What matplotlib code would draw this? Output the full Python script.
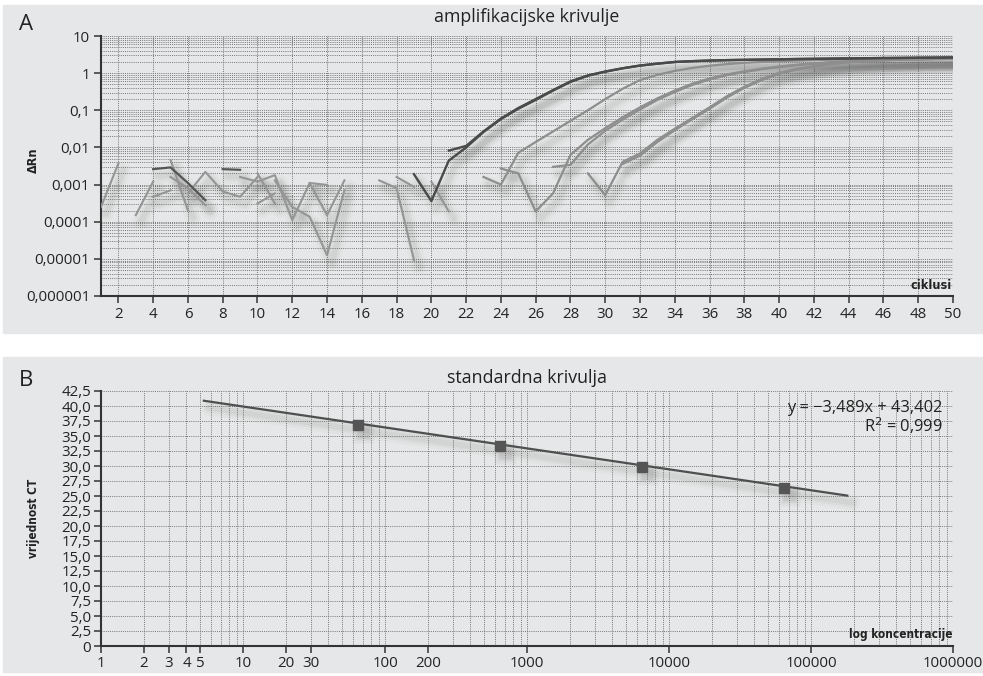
import numpy as np
import matplotlib
matplotlib.use("Agg")
import matplotlib.pyplot as plt
from matplotlib.patches import Rectangle
from matplotlib.ticker import FixedLocator, LogLocator, NullFormatter, FuncFormatter
from matplotlib.transforms import offset_copy

plt.rcParams['font.family'] = ['Open Sans', 'DejaVu Sans']

# ---------------- amplification curves (cycle start, delta Rn per cycle) ----------------
dark_a_start = 19
dark_a = [0.0019, 0.00036, 0.0044, 0.010, 0.026, 0.058, 0.11, 0.19, 0.34, 0.58, 0.85,
          1.1, 1.35, 1.6, 1.8, 2.0, 2.1, 2.18, 2.24, 2.28, 2.32, 2.36, 2.4, 2.43, 2.46,
          2.49, 2.52, 2.55, 2.57, 2.6, 2.62, 2.65]
dark_b_start = 21
dark_b = [0.0082, 0.011, 0.027, 0.06, 0.115, 0.2, 0.35, 0.6, 0.87, 1.1, 1.35, 1.6, 1.8,
          2.0, 2.1, 2.18, 2.24, 2.28, 2.32, 2.36, 2.4, 2.43, 2.46, 2.49, 2.52, 2.55,
          2.57, 2.6, 2.62, 2.65]
gray_c_start = 23
gray_c = [0.0016, 0.001, 0.0072, 0.014, 0.027, 0.052, 0.1, 0.2, 0.38, 0.65, 0.9, 1.15,
          1.38, 1.58, 1.75, 1.9, 2.0, 2.1, 2.18, 2.25, 2.3, 2.35, 2.38, 2.41, 2.44, 2.46,
          2.48, 2.5]
gray_d_start = 24
gray_d = [0.0027, 0.002, 0.00019, 0.00058, 0.0063, 0.016, 0.033, 0.065, 0.12, 0.21, 0.34,
          0.52, 0.72, 0.93, 1.12, 1.32, 1.5, 1.68, 1.84, 1.98, 2.1, 2.2, 2.27, 2.33,
          2.38, 2.42, 2.45]
gray_e_start = 27
gray_e = [0.003, 0.0034, 0.012, 0.028, 0.056, 0.105, 0.19, 0.31, 0.48, 0.67, 0.88, 1.07,
          1.27, 1.45, 1.63, 1.8, 1.94, 2.06, 2.16, 2.24, 2.3, 2.35, 2.4, 2.43]
gray_f_start = 29
gray_f = [0.002, 0.00052, 0.0041, 0.0069, 0.016, 0.032, 0.062, 0.12, 0.24, 0.43, 0.7,
          1.02, 1.3, 1.55, 1.8, 2.0, 2.14, 2.24, 2.32, 2.37, 2.41, 2.44]
gray_g_start = 31
gray_g = [0.0036, 0.006, 0.014, 0.029, 0.057, 0.11, 0.22, 0.4, 0.65, 0.96, 1.24, 1.5,
          1.74, 1.95, 2.1, 2.2, 2.28, 2.34, 2.39, 2.42]

# background noise fragments before the threshold
noise_starts = [1, 3, 4, 5, 5, 6, 9, 10, 10, 11, 13, 17, 18, 20]
noise_values = [
    [0.00025, 0.0037],
    [0.00015, 0.0012],
    [0.00047, 0.0007],
    [0.0046, 0.0002],
    [0.0016, 0.0008, 0.00028],
    [0.00058, 0.0022, 0.00065, 0.00047, 0.0016],
    [0.0016, 0.0012, 0.0018, 0.00011, 0.0011, 0.00098],
    [0.002, 0.00031],
    [0.00031, 0.00058],
    [0.0013, 0.00025, 0.000136, 0.0000126, 0.0007],
    [0.0011, 0.00015, 0.0013],
    [0.0013, 0.0008, 0.0000093],
    [0.0016, 0.00087],
    [0.0012, 0.00019],
]
noise_dark_starts = [4, 8]
noise_dark_values = [
    [0.0026, 0.0029, 0.0011, 0.00038],
    [0.0026, 0.0025],
]

# ---------------- standard curve ----------------
conc = [65, 650, 6500, 65000]
ct = [36.9, 33.3, 29.9, 26.4]
slope, intercept, r2 = -3.489, 43.402, 0.999
fit_range = [5.3, 180000]

y_ticks_b = np.arange(0, 42.6, 2.5)
x_labels_b = [1, 2, 3, 4, 5, 10, 20, 30, 100, 200, 1000, 10000, 100000, 1000000]
y_labels_a = ["10", "1", "0,1", "0,01", "0,001", "0,0001", "0,00001", "0,000001"]

W, H = 983, 676
fig = plt.figure(figsize=(W / 100, H / 100), dpi=100)
fig.patch.set_facecolor('white')
panel_col = '#e6e7e8'
fig.patches.append(Rectangle((3 / W, 1 - 333 / H), 980 / W, 328 / H,
                             transform=fig.transFigure, color=panel_col, zorder=-10))
fig.patches.append(Rectangle((3 / W, 1 - 672 / H), 980 / W, 315 / H,
                             transform=fig.transFigure, color=panel_col, zorder=-10))

grid_col = '#767676'
spine_col = '#333333'
label_kw = dict(family='DejaVu Sans', fontstretch='condensed', fontweight='bold',
                color='#222222')


def shadow_line(ax, x, y, lw=1.6):
    tr = offset_copy(ax.transData, fig=fig, x=5, y=-7, units='dots')
    for w, a in [(11, 0.035), (7, 0.05), (4, 0.06)]:
        ax.plot(x, y, color='#5a5a5a', lw=w, alpha=a, transform=tr,
                solid_capstyle='round', solid_joinstyle='round', zorder=1.5)


def draw_trace(ax, start, vals, color, lw=1.6):
    x = np.arange(start, start + len(vals))
    shadow_line(ax, x, vals)
    ax.plot(x, vals, color=color, lw=lw, zorder=3, solid_joinstyle='round')


# ================= panel A =================
axA = fig.add_axes([101 / W, 1 - 296 / H, 852 / W, 260 / H])
axA.set_facecolor('none')
axA.set_yscale('log')
axA.set_xlim(1, 50)
axA.set_ylim(1e-6, 10)

for st, v in zip(noise_starts, noise_values):
    draw_trace(axA, st, v, '#959595', lw=1.5)
for st, v in zip(noise_dark_starts, noise_dark_values):
    draw_trace(axA, st, v, '#555555', lw=1.6)
for st, v in [(gray_c_start, gray_c), (gray_d_start, gray_d), (gray_e_start, gray_e),
              (gray_f_start, gray_f), (gray_g_start, gray_g)]:
    draw_trace(axA, st, v, '#8e8e8e', lw=1.6)
for st, v in [(dark_b_start, dark_b), (dark_a_start, dark_a)]:
    draw_trace(axA, st, v, '#4a4a4a', lw=1.7)

axA.xaxis.set_major_locator(FixedLocator(np.arange(2, 51, 2)))
axA.yaxis.set_major_locator(FixedLocator([10.0 ** k for k in range(1, -7, -1)]))
axA.set_yticklabels(y_labels_a)
axA.yaxis.set_minor_locator(LogLocator(base=10, subs=np.arange(2, 10), numticks=20))
axA.yaxis.set_minor_formatter(NullFormatter())
axA.grid(True, which='both', axis='y', color=grid_col, lw=0.7, ls=(0, (1, 1.2)), zorder=0.5)
axA.grid(True, which='major', axis='x', color=grid_col, lw=0.7, ls=(0, (1, 1.2)), zorder=0.5)
axA.tick_params(axis='both', which='major', direction='out', length=5, width=1.1,
                color=spine_col, labelsize=10.8, labelcolor='#222222', pad=3)
axA.tick_params(axis='y', which='minor', length=0)
for s in ['top', 'right']:
    axA.spines[s].set_visible(False)
for s in ['left', 'bottom']:
    axA.spines[s].set_color(spine_col)
    axA.spines[s].set_linewidth(1.5)
axA.set_axisbelow(True)

fig.text(19 / W, 1 - 25 / H, 'A', fontsize=16, color='#222222', ha='left', va='center')
fig.text(527 / W, 1 - 17 / H, 'amplifikacijske krivulje', fontsize=12.8,
         color='#222222', ha='center', va='center')
fig.text(33 / W, 1 - 160 / H, 'ΔRn', fontsize=9, rotation=90,
         ha='center', va='center', **label_kw)
axA.text(0.999, 0.015, 'ciklusi', transform=axA.transAxes, fontsize=9,
         ha='right', va='bottom', **label_kw)

# ================= panel B =================
axB = fig.add_axes([101 / W, 1 - 646 / H, 852 / W, 255 / H])
axB.set_facecolor('none')
axB.set_xscale('log')
axB.set_xlim(1, 1e6)
axB.set_ylim(0, 42.5)

xf = np.array(fit_range, dtype=float)
yf = slope * np.log10(xf) + intercept
shadow_line(axB, xf, yf)
axB.plot(xf, yf, color='#4f4f4f', lw=1.6, zorder=3)

tr = offset_copy(axB.transData, fig=fig, x=5, y=-7, units='dots')
for ms, a in [(16, 0.05), (12, 0.07), (9, 0.08)]:
    axB.plot(conc, ct, ls='none', marker='s', ms=ms, color='#5a5a5a', alpha=a,
             mec='none', transform=tr, zorder=1.5)
axB.plot(conc, ct, ls='none', marker='s', ms=7.5, color='#555555', mec='#555555', zorder=4)

axB.xaxis.set_major_locator(FixedLocator(x_labels_b))
axB.xaxis.set_major_formatter(FuncFormatter(lambda v, p: f"{v:.0f}"))
axB.xaxis.set_minor_locator(LogLocator(base=10, subs=np.arange(1, 10), numticks=40))
axB.xaxis.set_minor_formatter(NullFormatter())
axB.yaxis.set_major_locator(FixedLocator(y_ticks_b))
axB.yaxis.set_major_formatter(FuncFormatter(
    lambda v, p: '0' if abs(v) < 1e-9 else f"{v:.1f}".replace('.', ',')))
axB.grid(True, which='both', axis='x', color=grid_col, lw=0.7, ls=(0, (1, 1.2)), zorder=0.5)
axB.grid(True, which='major', axis='y', color=grid_col, lw=0.7, ls=(0, (1, 1.2)), zorder=0.5)
axB.tick_params(axis='both', which='major', direction='out', length=5, width=1.1,
                color=spine_col, labelsize=10.8, labelcolor='#222222', pad=2)
axB.tick_params(axis='x', which='minor', length=0)
for s in ['top', 'right']:
    axB.spines[s].set_visible(False)
for s in ['left', 'bottom']:
    axB.spines[s].set_color(spine_col)
    axB.spines[s].set_linewidth(1.5)
axB.set_axisbelow(True)

fig.text(19 / W, 1 - 380 / H, 'B', fontsize=16, color='#222222', ha='left', va='center')
fig.text(527 / W, 1 - 378 / H, 'standardna krivulja', fontsize=12.8,
         color='#222222', ha='center', va='center')
fig.text(33 / W, 1 - 518 / H, 'vrijednost CT', fontsize=8.5, rotation=90,
         ha='center', va='center', **label_kw)
axB.text(0.999, 0.02, 'log koncentracije', transform=axB.transAxes, fontsize=8.5,
         ha='right', va='bottom', **label_kw)
eq = f"y = \u2212{abs(slope):.3f}x + {intercept:.3f}".replace('.', ',')
axB.text(0.988, 0.933, eq, transform=axB.transAxes, fontsize=11.8, ha='right',
         va='center', color='#222222')
axB.text(0.988, 0.863, f"R$^2$ = {r2:.3f}".replace('.', ','), transform=axB.transAxes,
         fontsize=11.8, ha='right', va='center', color='#222222')

fig.savefig('out.png', dpi=100, facecolor='white')
